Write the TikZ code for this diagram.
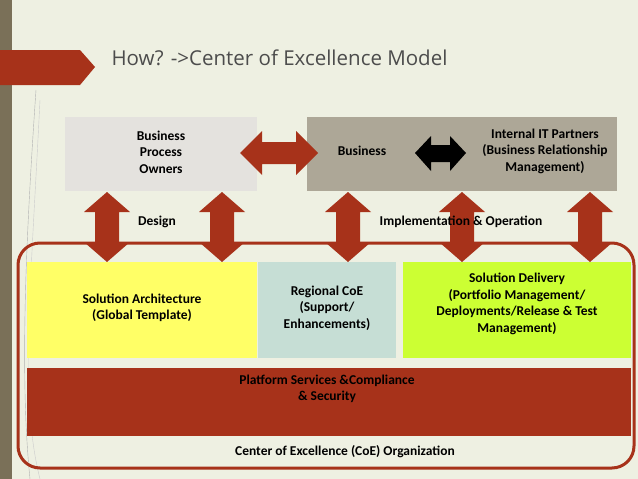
\documentclass[tikz,border=0pt]{standalone}
\usepackage{fontspec}
\setmainfont{Carlito}
\newfontfamily\titlefont{Open Sans}
\definecolor{bg}{HTML}{EEF0E2}
\definecolor{rust}{HTML}{A7321A}
\definecolor{bar}{HTML}{7A7058}
\definecolor{lg}{HTML}{E4E2DE}
\definecolor{dg}{HTML}{ADA797}
\definecolor{yel}{HTML}{FFFF66}
\definecolor{teal}{HTML}{C6DED5}
\definecolor{lime}{HTML}{CCFF33}
\tikzset{lbl/.style={font=\bfseries\fontsize{13.5}{16.5}\selectfont,align=center,text=black},
box/.style={inner sep=0}}
\newcommand\vda[3]{\fill[rust] (#1,#2) -- (#1+23,#2+20) -- (#1+12,#2+20) -- (#1+12,#3-20) -- (#1+23,#3-20) -- (#1,#3) -- (#1-23,#3-20) -- (#1-12,#3-20) -- (#1-12,#2+20) -- (#1-23,#2+20) -- cycle;}
\begin{document}
\begin{tikzpicture}[x=1pt,y=-1pt]
\useasboundingbox (0,0) rectangle (638,479);
\fill[bg] (0,0) rectangle (638,479);
\fill[bar] (0,0) rectangle (12,479);
\draw[gray!60,thin] (36,90) .. controls (25,250) and (20,380) .. (30,479);
\draw[gray!40,thin] (40,100) .. controls (30,300) and (20,400) .. (40,479);
\fill[rust] (0,50) -- (80,50) -- (95,67) -- (80,85) -- (0,85) -- cycle;
\node[anchor=west,font=\titlefont\fontsize{20.5}{24}\selectfont,text=black!70] (title) at (108,58) {How? ->Center of Excellence Model};
\fill[lg] (65,117) rectangle (257,191);
\node[lbl] (bpo) at (161,152) {Business\\Process\\Owners};
\fill[dg] (307,117) rectangle (617,191);
\node[lbl] (bus) at (362,151) {Business};
\node[lbl] (itp) at (545,151) {Internal IT Partners\\(Business Relationship\\Management)};
\fill[rust] (240,153) -- (262,131) -- (262,142) -- (296,142) -- (296,131) -- (318,153) -- (296,175) -- (296,164) -- (262,164) -- (262,175) -- cycle;
\fill[black] (415,153) -- (431,136) -- (431,145) -- (450,145) -- (450,136) -- (466,153) -- (450,171) -- (450,162) -- (431,162) -- (431,171) -- cycle;
\draw[rust,line width=3pt,rounded corners=22] (18,243) rectangle (634,468);
\vda{107}{192}{262}
\vda{222}{192}{262}
\vda{348}{192}{262}
\vda{462}{192}{262}
\vda{590}{192}{262}
\node[lbl] (design) at (157,222) {Design};
\node[lbl] (impl) at (461,222) {Implementation \& Operation};
\fill[yel] (27,262) rectangle (257,358);
\node[lbl] (sa) at (142,308) {Solution Architecture\\(Global Template)};
\fill[teal] (258,262) rectangle (396,358);
\node[lbl] (rc) at (327,308) {Regional CoE\\(Support/\\Enhancements)};
\fill[lime] (403,262) rectangle (631,358);
\node[lbl] (sd) at (517,304) {Solution Delivery\\(Portfolio Management/\\Deployments/Release \& Test\\Management)};
\fill[rust] (27,368) rectangle (631,436);
\node[lbl] (ps) at (327,389) {Platform Services \&Compliance\\\& Security};
\node[lbl] (coe) at (345,452) {Center of Excellence (CoE) Organization};
\end{tikzpicture}
\end{document}
